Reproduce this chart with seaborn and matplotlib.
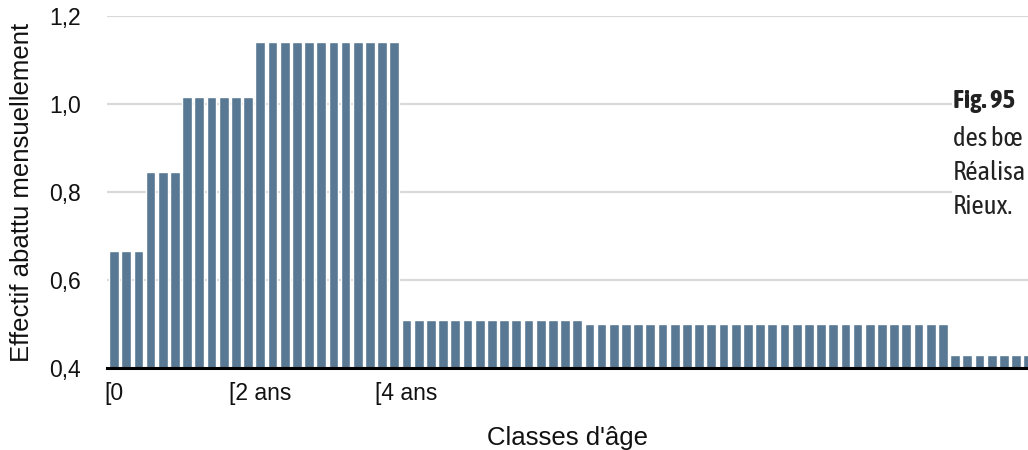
import matplotlib
matplotlib.use("Agg")
import matplotlib.pyplot as plt
import seaborn as sns
import pandas as pd
from matplotlib.patches import Rectangle
from matplotlib import font_manager as fm

# ---- data (one bar per month of age) ----
values = [
    0.667, 0.667, 0.667,
    0.845, 0.845, 0.845,
    1.015, 1.015, 1.015, 1.015, 1.015, 1.015,
    1.14, 1.14, 1.14, 1.14, 1.14, 1.14, 1.14, 1.14, 1.14, 1.14, 1.14, 1.14,
    0.51, 0.51, 0.51, 0.51, 0.51, 0.51, 0.51, 0.51, 0.51, 0.51, 0.51, 0.51, 0.51, 0.51, 0.51,
    0.50, 0.50, 0.50, 0.50, 0.50, 0.50, 0.50, 0.50, 0.50, 0.50,
    0.50, 0.50, 0.50, 0.50, 0.50, 0.50, 0.50, 0.50, 0.50, 0.50,
    0.50, 0.50, 0.50, 0.50, 0.50, 0.50, 0.50, 0.50, 0.50, 0.50,
    0.43, 0.43, 0.43, 0.43, 0.43, 0.43, 0.43,
]
months = list(range(len(values)))
tick_months = [0, 12, 24]
tick_labels = ["[0", "[2 ans", "[4 ans"]
y_ticks = [0.4, 0.6, 0.8, 1.0, 1.2]
y_tick_labels = ["0,4", "0,6", "0,8", "1,0", "1,2"]
caption_lines = ["Fig. 95", "des bœ", "Réalisa", "Rieux."]

df = pd.DataFrame({"mois": months, "effectif": values})

sns.set_theme(style="white")
plt.rcParams["font.family"] = ["Liberation Sans", "DejaVu Sans"]

fig = plt.figure(figsize=(10.28, 4.5), dpi=100)
ax = fig.add_axes([107 / 1028, 1 - 368 / 450, 1 - 107 / 1028, (368 - 16) / 450])

sns.barplot(data=df, x="mois", y="effectif", color="#587893", width=0.8,
            saturation=1, ax=ax, zorder=3)

ax.set_ylim(0.4, 1.2)
ax.set_xlim(-0.574, 74.98)
ax.set_yticks(y_ticks)
ax.set_yticklabels(y_tick_labels)
ax.set_xticks(tick_months)
ax.set_xticklabels(tick_labels)
ax.tick_params(axis="both", length=0, labelsize=16.5, colors="#111111")
ax.tick_params(axis="y", pad=19)
ax.tick_params(axis="x", pad=10)

ax.yaxis.grid(True, color="#d9d9d9", linewidth=1.6, zorder=0)
ax.xaxis.grid(False)
ax.set_axisbelow(True)
for s in ["top", "right", "left"]:
    ax.spines[s].set_visible(False)
ax.spines["bottom"].set_color("black")
ax.spines["bottom"].set_linewidth(2.2)
ax.spines["bottom"].set_zorder(5)

ax.set_xlabel("Classes d'âge", fontsize=18.5, color="#111111")
ax.set_ylabel("Effectif abattu mensuellement", fontsize=18.5, color="#111111")
ax.xaxis.set_label_coords(0.5, (368 - 438) / 352)
ax.xaxis.label.set_verticalalignment("center")
ax.yaxis.set_label_coords((22 - 107) / 921, 0.5)
ax.yaxis.label.set_verticalalignment("center")

# caption box partially covering the plot (cropped on the right)
fig.patches.append(Rectangle((952 / 1028, (450 - 245) / 450), 1.0, (245 - 65) / 450,
                             transform=fig.transFigure, facecolor="white",
                             edgecolor="none", zorder=10))

# prefer a narrow/condensed sans (with regular + bold faces) if installed
def is_narrow(f):
    return ("Narrow" in f.name or "Condensed" in f.name
            or f.stretch in ("condensed", "semi-condensed"))

def wt(f):
    w = f.weight
    if isinstance(w, str):
        w = {"bold": 700, "semibold": 600, "demibold": 600, "heavy": 800,
             "black": 900, "light": 300, "thin": 100, "normal": 400,
             "regular": 400, "medium": 500}.get(w.lower(), 400)
    return w

narrow = [f for f in fm.fontManager.ttflist if is_narrow(f) and f.style == "normal"]
reg_font = None
bold_font = None
for nm in sorted({f.name for f in narrow}):
    faces = [f for f in narrow if f.name == nm]
    regs = sorted(faces, key=lambda f: abs(wt(f) - 400))
    bolds = sorted(faces, key=lambda f: abs(wt(f) - 700))
    if regs and abs(wt(regs[0]) - 400) <= 50 and bolds and abs(wt(bolds[0]) - 700) <= 50:
        reg_font, bold_font = regs[0], bolds[0]
        break

CAP_SIZE = 20

def props(bold):
    if bold and bold_font is not None:
        return fm.FontProperties(fname=bold_font.fname, size=CAP_SIZE)
    if bold:
        return fm.FontProperties(family=["Liberation Sans", "DejaVu Sans"],
                                 weight="bold", size=CAP_SIZE)
    if reg_font is not None:
        return fm.FontProperties(fname=reg_font.fname, size=CAP_SIZE)
    return fm.FontProperties(family=["Liberation Sans", "DejaVu Sans"], size=CAP_SIZE)

baselines = [108, 146, 180, 214]
texts = []
for i, (txt, yb) in enumerate(zip(caption_lines, baselines)):
    t = fig.text(953 / 1028, 1 - yb / 450, txt, fontproperties=props(i == 0),
                 color="#222222", ha="left", va="baseline", zorder=11)
    texts.append(t)

# shrink caption font so every line stays inside the figure
fig.canvas.draw()
renderer = fig.canvas.get_renderer()
limit = 1028 - 953 - 2
widest = max(t.get_window_extent(renderer).width for t in texts)
if widest > limit:
    new_size = CAP_SIZE * limit / widest
    for t in texts:
        t.set_fontsize(new_size)

fig.savefig("out.png", dpi=100)
